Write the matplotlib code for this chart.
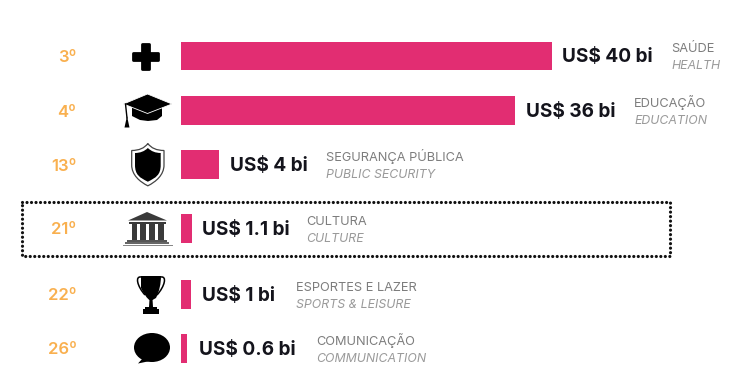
import matplotlib
matplotlib.use('Agg')
import matplotlib.pyplot as plt
from matplotlib.patches import Ellipse, PathPatch, Polygon, Rectangle
from matplotlib.path import Path

plt.rcParams['font.family'] = ['Inter', 'DejaVu Sans']

ranks = ['3º', '4º', '13º', '21º', '22º', '26º']
values = [40, 36, 4, 1.1, 1, 0.6]
value_labels = ['US$ 40 bi', 'US$ 36 bi', 'US$ 4 bi', 'US$ 1.1 bi', 'US$ 1 bi', 'US$ 0.6 bi']
names_pt = ['SAÚDE', 'EDUCAÇÃO', 'SEGURANÇA PÚBLICA', 'CULTURA', 'ESPORTES E LAZER', 'COMUNICAÇÃO']
names_en = ['HEALTH', 'EDUCATION', 'PUBLIC SECURITY', 'CULTURE', 'SPORTS & LEISURE', 'COMMUNICATION']

# layout, in pixels of the 730x373 picture
W, H = 730, 373
row_y = [56, 110.7, 164.7, 228.5, 294.5, 348.5]
value_x = [562, 526, 229.5, 202.5, 202.5, 199]
name_x = [671.5, 634, 326.5, 306.5, 296, 316.5]
bar_h = 28.6
px_per_unit = 9.27
bar_left = 181.5

PINK = '#E22D72'
ORANGE = '#F9B04F'

fig = plt.figure(figsize=(W / 100, H / 100), dpi=100, facecolor='white')

# bars get their own axes, value 0 sits on bar_left
ax = fig.add_axes([0, 0, 1, 1])
ax.set_xlim(-bar_left / px_per_unit, (W - bar_left) / px_per_unit)
ax.set_ylim(H, 0)
ax.axis('off')
ax.barh(row_y, values, height=bar_h, color=PINK, edgecolor='none')

# overlay in pixels for text and icons
px = fig.add_axes([0, 0, 1, 1])
px.set_xlim(0, W)
px.set_ylim(H, 0)
px.axis('off')
px.patch.set_alpha(0)

for i, y in enumerate(row_y):
    px.text(76.5, y + 6, ranks[i], color=ORANGE, fontsize=12, fontweight='semibold', ha='right', va='baseline')
    px.text(value_x[i], y + 6.5, value_labels[i], color='#14141c', fontsize=13.7, fontweight='bold', va='baseline')
    px.text(name_x[i], y - 3.5, names_pt[i], color='#7d7d7d', fontsize=9.2, va='baseline')
    px.text(name_x[i], y + 13, names_en[i], color='#9a9a9a', fontsize=8.9, style='italic', va='baseline')

# dotted highlight box
px.add_patch(Rectangle((22, 202), 648, 53.5, fill=False, edgecolor='#111111', linewidth=2.3,
                       linestyle=(0, (0.01, 1.4)), capstyle='round', joinstyle='miter'))

# plus icon
px.add_patch(Rectangle((141.5, 43.5), 7, 25, facecolor='black', edgecolor='black', linewidth=2, joinstyle='round'))
px.add_patch(Rectangle((132.5, 52.5), 25, 7, facecolor='black', edgecolor='black', linewidth=2, joinstyle='round'))

# graduation cap icon
cap_base = [(132, 106), (132, 116), (140, 120), (148, 121), (157, 120), (162, 116), (162, 106)]
px.add_patch(Polygon(cap_base, facecolor='black', edgecolor='none'))
px.add_patch(Polygon([(123.5, 104), (147.5, 94), (172, 104), (147.5, 113.5)], facecolor='black',
                     edgecolor='white', linewidth=0.6))
px.plot([125.5, 127], [104, 118], color='black', lw=1)
px.add_patch(Polygon([(127, 116), (129.5, 127.5), (124.5, 127.5)], facecolor='black', edgecolor='none'))


# shield icon
def shield(x0, x1, top, shoulder, side, bottom):
    cx = (x0 + x1) / 2
    verts = [(cx, top), (cx + 5, shoulder), (x1, shoulder), (x1, side),
             (x1, side + 10), (cx + 8, bottom - 4), (cx, bottom),
             (cx - 8, bottom - 4), (x0, side + 10), (x0, side),
             (x0, shoulder), (cx - 5, shoulder), (cx, top)]
    codes = [Path.MOVETO, Path.CURVE3, Path.CURVE3, Path.LINETO,
             Path.CURVE4, Path.CURVE4, Path.CURVE4,
             Path.CURVE4, Path.CURVE4, Path.CURVE4,
             Path.LINETO, Path.CURVE3, Path.CURVE3]
    return Path(verts, codes)


px.add_patch(PathPatch(shield(131.7, 164, 143.5, 150.5, 165, 185.8), facecolor='white', edgecolor='#444444', linewidth=0.9))
px.add_patch(PathPatch(shield(135, 160.7, 148, 153, 165, 181.7), facecolor='black', edgecolor='none'))

# temple icon
TEMPLE = '#3a3a3a'
px.add_patch(Polygon([(147, 212), (128, 220.5), (167, 220.5)], facecolor=TEMPLE, edgecolor='none'))
px.add_patch(Rectangle((129, 221.5), 37, 2.5, facecolor=TEMPLE, edgecolor='none'))
for cx in [131.5, 140, 149, 158]:
    px.add_patch(Rectangle((cx, 224), 5.5, 16, facecolor=TEMPLE, edgecolor='none'))
px.add_patch(Rectangle((127, 240), 40, 1.6, facecolor='#555555', edgecolor='none'))
px.add_patch(Rectangle((125, 242.3), 44, 1.6, facecolor='#666666', edgecolor='none'))
px.add_patch(Rectangle((122.5, 244.5), 50, 1.5, facecolor='#888888', edgecolor='none'))

# trophy icon
cup = Path([(141, 276), (161, 276), (161, 288), (156, 298), (152.5, 300), (149.5, 300), (146, 298), (141, 288), (141, 276)],
           [Path.MOVETO, Path.LINETO, Path.CURVE3, Path.CURVE3, Path.LINETO, Path.LINETO, Path.CURVE3, Path.CURVE3, Path.CLOSEPOLY])
px.add_patch(PathPatch(cup, facecolor='black', edgecolor='none'))
handle_l = Path([(141, 277), (135, 276), (137, 286), (145, 295)], [Path.MOVETO, Path.CURVE4, Path.CURVE4, Path.CURVE4])
handle_r = Path([(161, 277), (167, 276), (165, 286), (157, 295)], [Path.MOVETO, Path.CURVE4, Path.CURVE4, Path.CURVE4])
px.add_patch(PathPatch(handle_l, fill=False, edgecolor='black', linewidth=1.1))
px.add_patch(PathPatch(handle_r, fill=False, edgecolor='black', linewidth=1.1))
px.add_patch(Polygon([(149.5, 299), (152.5, 299), (153, 307), (149, 307)], facecolor='black', edgecolor='none'))
px.add_patch(Rectangle((145, 306.5), 12, 2.5, facecolor='black', edgecolor='none'))
px.add_patch(Rectangle((143, 309), 16, 5, facecolor='black', edgecolor='none'))

# speech bubble icon
px.add_patch(Ellipse((152, 347.5), 36, 29, facecolor='black', edgecolor='none'))
px.add_patch(Polygon([(143, 358), (150, 361), (138, 363.5)], facecolor='black', edgecolor='none'))

fig.savefig('out.png', dpi=100, facecolor='white')
